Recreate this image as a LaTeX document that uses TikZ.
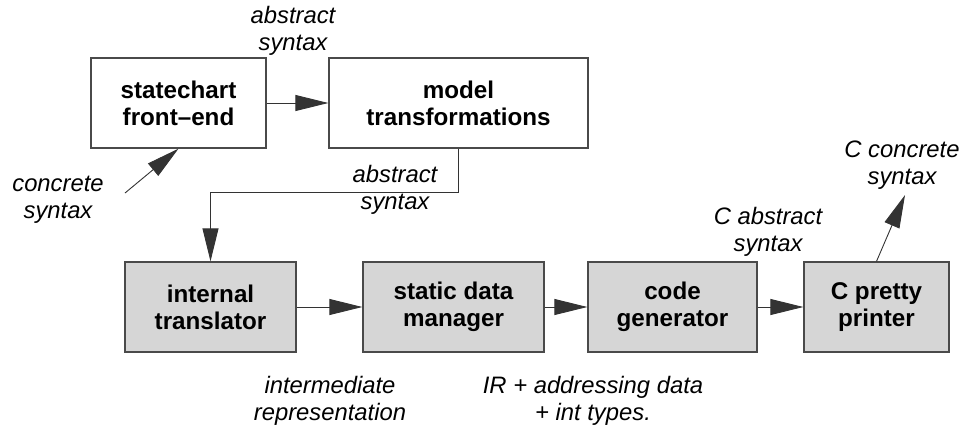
\documentclass[tikz,border=0pt]{standalone}
\usepackage{fontspec}
\setmainfont{Liberation Sans}
\usetikzlibrary{arrows.meta}
\definecolor{boxfill}{HTML}{D6D6D6}
\definecolor{boxline}{HTML}{4A4A4A}
\definecolor{arrline}{HTML}{333333}
\begin{document}
\begin{tikzpicture}[x=1pt,y=-1pt,
  stagebox/.style={draw=boxline,line width=1.3pt,align=center,inner sep=0pt,
    font=\fontsize{24.2}{27}\selectfont\bfseries},
  whitebox/.style={stagebox,fill=white},
  graybox/.style={stagebox,fill=boxfill},
  lbl/.style={align=center,inner sep=0pt,font=\fontsize{23.8}{27}\selectfont\itshape},
  arr/.style={draw=arrline,line width=0.9pt,-{Triangle[length=33pt,width=16pt]}}]
\useasboundingbox (0,0) rectangle (963,431);
% boxes
\node[whitebox,minimum width=175pt,minimum height=90pt] (sc) at (178.5,103) {statechart\\front--end};
\node[whitebox,minimum width=259pt,minimum height=90pt] (mt) at (458.5,103) {model\\transformations};
\node[graybox,minimum width=171pt,minimum height=90pt] (it) at (210.5,307) {internal\\translator};
\node[graybox,minimum width=181pt,minimum height=90pt] (sd) at (453.5,307) {static data\\manager};
\node[graybox,minimum width=169pt,minimum height=90pt] (cg) at (672.5,307) {code\\generator};
\node[graybox,minimum width=145pt,minimum height=90pt] (cp) at (876.5,307) {C pretty\\printer};
% labels
\node[lbl] (l1) at (293,31) {abstract\\syntax};
\node[lbl] (l2) at (58,200) {concrete\\syntax};
\node[lbl] (l3) at (395,190) {abstract\\syntax};
\node[lbl] (l4) at (330,401) {intermediate\\representation};
\node[lbl] (l5) at (593,401) {IR + addressing data\\+ int types.};
\node[lbl] (l6) at (768,232) {C abstract\\syntax};
\node[lbl] (l7) at (902,165) {C concrete\\syntax};
% free ends
\coordinate (cin) at (125,193);
\coordinate (cout) at (905,195);
% connectors
\draw[arr] (sc.east) -- (mt.west);
\draw[arr] (cin) -- (sc.south);
\draw[arr] (mt.south) -- ++(0,44) -| (it.north);
\draw[arr] (it.east) -- (sd.west);
\draw[arr] (sd.east) -- (cg.west);
\draw[arr] (cg.east) -- (cp.west);
\draw[arr] (cp.north) -- (cout);
\end{tikzpicture}
\end{document}
